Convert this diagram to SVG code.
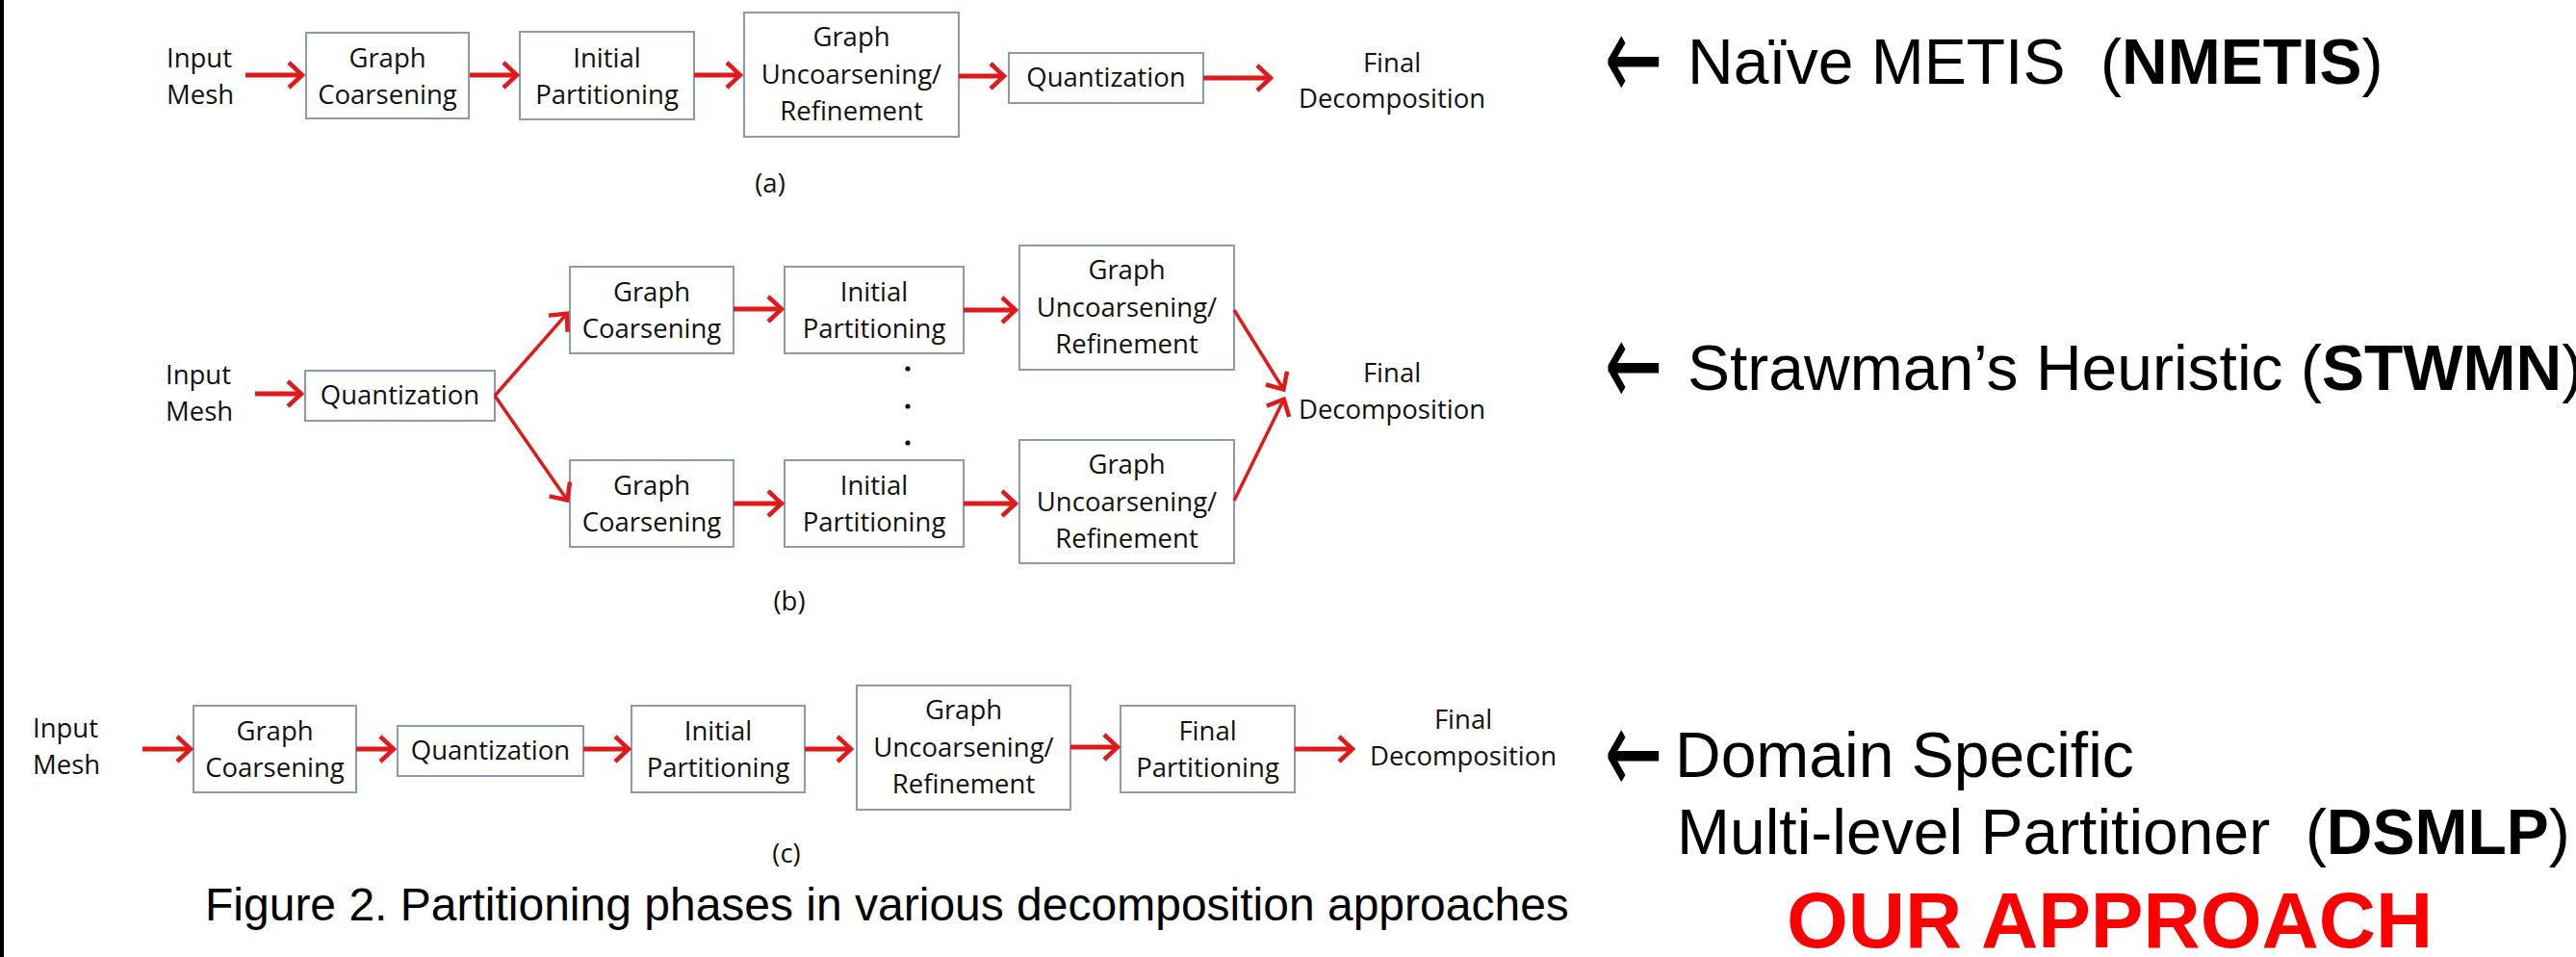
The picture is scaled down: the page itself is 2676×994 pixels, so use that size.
<svg xmlns="http://www.w3.org/2000/svg" width="2676" height="994" viewBox="0 0 2676 994">
<defs>
<style>
.n rect{fill:#fff;stroke:#8A9BB0;stroke-width:2}
.t{font-family:"Open Sans","Liberation Sans",sans-serif;font-size:27.5px;fill:#111;text-anchor:middle}
.tl{font-family:"Open Sans","Liberation Sans",sans-serif;font-size:27.5px;fill:#111;text-anchor:start}
.c path{stroke:#E01A1A;stroke-width:5;fill:none;marker-end:url(#ah)}
.c path.d{stroke-width:3.5}
.big{font-family:"Liberation Sans",Arial,sans-serif;font-size:66px;fill:#000}
.arr{font-family:"DejaVu Sans",sans-serif;font-size:80px;fill:#000}
.cap{font-family:"Liberation Sans",Arial,sans-serif;font-size:48px;fill:#000}
</style>
<marker id="ah" viewBox="0 0 24 30" refX="18" refY="15" markerWidth="24" markerHeight="30" markerUnits="userSpaceOnUse" orient="auto">
<path d="M4,2 L18,15 L4,28" fill="none" stroke="#E01A1A" stroke-width="4.5"/>
</marker>
</defs>
<rect width="2676" height="994" fill="#fff"/>
<rect x="0" y="0" width="4" height="994" fill="#000"/>

<!-- Row (a) -->
<g id="a-input"><text class="tl" x="173" y="70">Input</text><text class="tl" x="173" y="108">Mesh</text></g>
<g id="a-coarsen" class="n"><rect x="318" y="34" width="169" height="89"/><text class="t" x="402.5" y="70">Graph</text><text class="t" x="402.5" y="108">Coarsening</text></g>
<g id="a-initial" class="n"><rect x="540" y="33" width="181" height="91"/><text class="t" x="630.5" y="70">Initial</text><text class="t" x="630.5" y="108">Partitioning</text></g>
<g id="a-uncoarsen" class="n"><rect x="773" y="13" width="223" height="129"/><text class="t" x="884.5" y="48">Graph</text><text class="t" x="884.5" y="87">Uncoarsening/</text><text class="t" x="884.5" y="125">Refinement</text></g>
<g id="a-quant" class="n"><rect x="1048" y="55" width="202" height="52"/><text class="t" x="1149" y="90">Quantization</text></g>
<g id="a-final"><text class="t" x="1446" y="75">Final</text><text class="t" x="1446" y="112">Decomposition</text></g>
<g id="a-label"><text class="t" x="800" y="200">(a)</text></g>

<!-- Row (b) -->
<g id="b-input"><text class="tl" x="172" y="399">Input</text><text class="tl" x="172" y="437">Mesh</text></g>
<g id="b-quant" class="n"><rect x="317" y="385" width="197" height="52"/><text class="t" x="415.5" y="420">Quantization</text></g>
<g id="b-coarsen1" class="n"><rect x="592" y="277" width="170" height="90"/><text class="t" x="677" y="313">Graph</text><text class="t" x="677" y="351">Coarsening</text></g>
<g id="b-coarsen2" class="n"><rect x="592" y="478" width="170" height="90"/><text class="t" x="677" y="514">Graph</text><text class="t" x="677" y="552">Coarsening</text></g>
<g id="b-initial1" class="n"><rect x="815" y="277" width="186" height="90"/><text class="t" x="908" y="313">Initial</text><text class="t" x="908" y="351">Partitioning</text></g>
<g id="b-initial2" class="n"><rect x="815" y="478" width="186" height="90"/><text class="t" x="908" y="514">Initial</text><text class="t" x="908" y="552">Partitioning</text></g>
<g id="b-uncoarsen1" class="n"><rect x="1059" y="255" width="223" height="129"/><text class="t" x="1170.5" y="290">Graph</text><text class="t" x="1170.5" y="329">Uncoarsening/</text><text class="t" x="1170.5" y="367">Refinement</text></g>
<g id="b-uncoarsen2" class="n"><rect x="1059" y="457" width="223" height="128"/><text class="t" x="1170.5" y="492">Graph</text><text class="t" x="1170.5" y="531">Uncoarsening/</text><text class="t" x="1170.5" y="569">Refinement</text></g>
<g id="b-dots" fill="#111"><circle cx="943" cy="383" r="2.6"/><circle cx="943" cy="422" r="2.6"/><circle cx="943" cy="460" r="2.6"/></g>
<g id="b-final"><text class="t" x="1446" y="397">Final</text><text class="t" x="1446" y="435">Decomposition</text></g>
<g id="b-label"><text class="t" x="820" y="634">(b)</text></g>

<!-- Row (c) -->
<g id="c-input"><text class="tl" x="34" y="766">Input</text><text class="tl" x="34" y="804">Mesh</text></g>
<g id="c-coarsen" class="n"><rect x="201" y="733" width="169" height="90"/><text class="t" x="285.5" y="769">Graph</text><text class="t" x="285.5" y="807">Coarsening</text></g>
<g id="c-quant" class="n"><rect x="413" y="754" width="193" height="52"/><text class="t" x="509.5" y="789">Quantization</text></g>
<g id="c-initial" class="n"><rect x="656" y="733" width="180" height="90"/><text class="t" x="746" y="769">Initial</text><text class="t" x="746" y="807">Partitioning</text></g>
<g id="c-uncoarsen" class="n"><rect x="890" y="712" width="222" height="129"/><text class="t" x="1001" y="747">Graph</text><text class="t" x="1001" y="786">Uncoarsening/</text><text class="t" x="1001" y="824">Refinement</text></g>
<g id="c-finalpart" class="n"><rect x="1164" y="733" width="181" height="90"/><text class="t" x="1254.5" y="769">Final</text><text class="t" x="1254.5" y="807">Partitioning</text></g>
<g id="c-final"><text class="t" x="1520" y="757">Final</text><text class="t" x="1520" y="795">Decomposition</text></g>
<g id="c-label"><text class="t" x="817" y="896">(c)</text></g>

<g id="caption"><text class="cap" x="213" y="956">Figure 2. Partitioning phases in various decomposition approaches</text></g>

<!-- Right annotations -->
<g id="note-nmetis"><text class="arr" transform="translate(1667,62.5) scale(0.9,1.58)" x="0" y="26">←</text><text class="big" x="1753" y="87" xml:space="preserve">Naïve METIS  (<tspan font-weight="bold">NMETIS</tspan>)</text></g>
<g id="note-stwmn"><text class="arr" transform="translate(1667,381) scale(0.9,1.58)" x="0" y="26">←</text><text class="big" x="1753" y="405">Strawman’s Heuristic (<tspan font-weight="bold">STWMN</tspan>)</text></g>
<g id="note-dsmlp"><text class="arr" transform="translate(1667,783.5) scale(0.9,1.58)" x="0" y="26">←</text><text class="big" x="1740" y="807">Domain Specific</text><text class="big" x="1742" y="887" xml:space="preserve">Multi-level Partitioner  (<tspan font-weight="bold">DSMLP</tspan>)</text>
<text x="1856" y="984" font-family="'Liberation Sans',Arial,sans-serif" font-weight="bold" font-size="82" fill="#FF0000">OUR APPROACH</text></g>

<!-- Connectors -->
<g id="connectors" class="c">
<path d="M255,78 H314"/>
<path d="M488,78 H537"/>
<path d="M721,78 H769"/>
<path d="M996,79 H1043"/>
<path d="M1250,81 H1320"/>
<path d="M265,409 H313"/>
<path class="d" d="M514,411 L589,325.7"/>
<path class="d" d="M514,411 L589.3,519.5"/>
<path d="M762,321 H812"/>
<path d="M762,523 H812"/>
<path d="M1001,322 H1055"/>
<path d="M1001,523 H1055"/>
<path class="d" d="M1282,322 L1333.4,404.5"/>
<path class="d" d="M1282,520 L1333.7,414.7"/>
<path d="M148,778 H198"/>
<path d="M370,778 H409"/>
<path d="M606,778 H653"/>
<path d="M836,778 H884"/>
<path d="M1112,776 H1161"/>
<path d="M1345,778 H1405"/>
</g>
</svg>
